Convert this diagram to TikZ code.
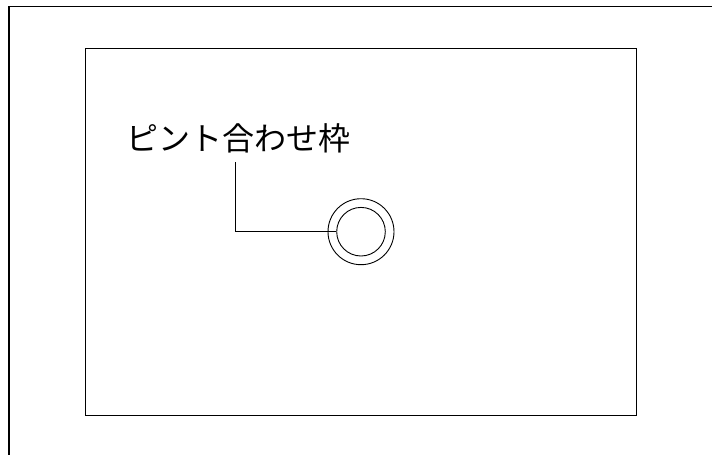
\documentclass[tikz,border=0pt]{standalone}
\usepackage{fontspec}
\newfontfamily\jpfont{Noto Sans CJK JP}
\begin{document}
\begin{tikzpicture}[x=1pt,y=-1pt,
  frame/.style={line width=1.3pt},
  ring/.style={line width=0.9pt},
  leader/.style={line width=1pt},
  lbl/.style={font=\jpfont\fontsize{32}{32}\selectfont, inner sep=0pt}]
\useasboundingbox[fill=white] (0,0) rectangle (712,455);
\draw[frame] (9,455) -- (9,6.5) -- (712,6.5);
\node[frame, draw, minimum width=551pt, minimum height=367pt, inner sep=0pt, anchor=north west] (screen) at (85,48) {};
\coordinate (c) at (361,231.7);
\node[ring, draw, circle, minimum size=66pt, inner sep=0pt] (outer) at (c) {};
\node[ring, draw, circle, minimum size=48.6pt, inner sep=0pt] (inner) at (c) {};
\node[lbl] (label) at (238.5,138) {ピント合わせ枠};
\coordinate (top) at (235,162);
\draw[leader] (top) |- (inner.west);
\end{tikzpicture}
\end{document}
